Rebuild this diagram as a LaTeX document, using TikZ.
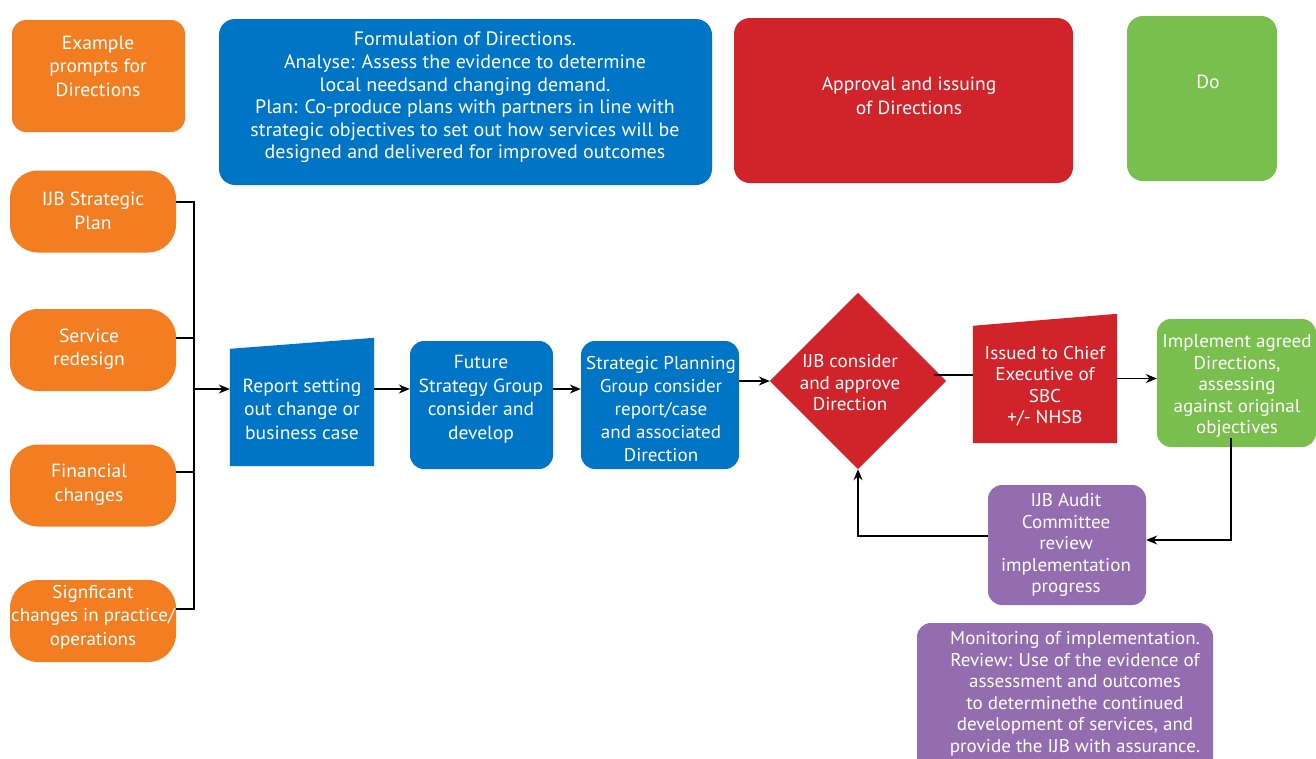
\documentclass[tikz,border=0pt]{standalone}
\usepackage{fontspec}
\setmainfont{PT Sans}[FakeStretch=1.03]
\usetikzlibrary{calc,arrows.meta}
\definecolor{cOr}{HTML}{F37E22}
\definecolor{cBl}{HTML}{0074C5}
\definecolor{cRd}{HTML}{D1232A}
\definecolor{cGr}{HTML}{79BF4E}
\definecolor{cPu}{HTML}{936DAF}
\tikzset{
  txt/.style={text=white, align=center, inner sep=0pt, font=\fontsize{19}{23.5}\selectfont},
  shp/.style={rectangle, inner sep=0pt, draw=none},
  rbox/.style={shp, rounded corners=14pt},
  pill/.style={shp, rounded corners=28pt, fill=cOr, minimum width=166pt, minimum height=82pt},
  conn/.style={line width=1.3pt, black},
  arr/.style={conn, -{Stealth[length=11pt,width=9pt]}}
}
\begin{document}
\begin{tikzpicture}[x=1pt,y=-1pt]
\useasboundingbox (0,0) rectangle (1316,758);
\clip (0,0) rectangle (1316,758);
\fill[white] (0,0) rectangle (1316,758);

% top row
\node[rbox, fill=cOr, minimum width=173pt, minimum height=112pt] (ex) at (98.5,76) {};
\node[txt] (ext) at (98,66) {Example\\prompts for\\Directions};
\node[rbox, fill=cBl, rounded corners=16pt, minimum width=493pt, minimum height=166pt] (form) at (465.5,102) {};
\node[txt, font=\fontsize{19.4}{22.6}\selectfont] (formt) at (465,97.5) {Formulation of Directions.\\Analyse: Assess the evidence to determine\\local needsand changing demand.\\Plan: Co-produce plans with partners in line with\\strategic objectives to set out how services will be\\designed and delivered for improved outcomes};
\node[rbox, fill=cRd, rounded corners=16pt, minimum width=339pt, minimum height=165pt] (appr) at (903.5,100.5) {};
\node[txt] (apprt) at (909,96) {Approval and issuing\\of Directions};
\node[rbox, fill=cGr, rounded corners=16pt, minimum width=150pt, minimum height=165pt] (do) at (1202,98.5) {};
\node[txt] (dot) at (1208,82) {Do};

% left prompts
\node[pill] (ijb) at (93,211.5) {};
\node[txt] (ijbt) at (93,211) {IJB Strategic\\Plan};
\node[pill] (svc) at (93,350) {};
\node[txt] (svct) at (89,349) {Service\\redesign};
\node[pill] (fin) at (93,485.5) {};
\node[txt] (fint) at (89,485) {Financial\\changes};
\node[pill] (sig) at (93,621) {};
\node[txt, font=\fontsize{18.5}{23.5}\selectfont] (sigt) at (93,617) {Signficant\\changes in practice/\\operations};

% bracket
\coordinate (bus) at (194,389);
\draw[conn] ([yshift=9.5pt]ijb.east) -| (bus) |- ([yshift=12pt]sig.east);
\draw[conn] ([yshift=12pt]svc.east) -- ([yshift=12pt]svc.east -| bus);
\draw[conn] ([yshift=13.5pt]fin.east) -- ([yshift=13.5pt]fin.east -| bus);

% main flow
\node[shp, minimum width=144pt, minimum height=128pt] (rep) at (302,402) {};
\fill[cBl] (rep.south west) -- ($(rep.north west)+(0,11)$) -- (rep.north east) -- (rep.south east) -- cycle;
\node[txt] (rept) at (302,409) {Report setting\\out change or\\business case};
\node[rbox, fill=cBl, minimum width=143pt, minimum height=128pt] (fut) at (481.5,405) {};
\node[txt] (futt) at (481,399) {Future\\Strategy Group\\consider and\\develop};
\node[rbox, fill=cBl, minimum width=158pt, minimum height=128pt] (spg) at (660,405) {};
\node[txt, font=\fontsize{18.5}{23}\selectfont] (spgt) at (661,409.5) {Strategic Planning\\Group consider\\report/case\\and associated\\Direction};
\node[shp, minimum width=176pt, minimum height=176pt] (dia) at (858,381) {};
\fill[cRd] (dia.north) -- (dia.east) -- (dia.south) -- (dia.west) -- cycle;
\node[txt, font=\fontsize{18.5}{21.5}\selectfont] (diat) at (850,383) {IJB consider\\and approve\\Direction};
\node[shp, minimum width=144pt, minimum height=129pt] (iss) at (1045,378.5) {};
\fill[cRd] (iss.south west) -- ($(iss.north west)+(0,12)$) -- (iss.north east) -- (iss.south east) -- cycle;
\node[txt, font=\fontsize{18.5}{21.5}\selectfont] (isst) at (1045,386) {Issued to Chief\\Executive of\\SBC\\+/- NHSB};
\node[rbox, fill=cGr, minimum width=159pt, minimum height=128pt] (imp) at (1236.5,383) {};
\node[txt, font=\fontsize{18.5}{21.5}\selectfont] (impt) at (1237,386) {Implement agreed\\Directions,\\assessing\\against original\\objectives};
\node[rbox, fill=cPu, minimum width=158pt, minimum height=120pt] (aud) at (1067,545) {};
\node[txt, font=\fontsize{18.5}{21.5}\selectfont] (audt) at (1066,545) {IJB Audit\\Committee\\review\\implementation\\progress};
\node[rbox, fill=cPu, minimum width=296pt, minimum height=157pt] (mon) at (1065,701.5) {};
\node[txt, font=\fontsize{18.5}{21.5}\selectfont] (mont) at (1075,694) {Monitoring of implementation.\\Review: Use of the evidence of\\assessment and outcomes\\to determinethe continued\\development of services, and\\provide the IJB with assurance.};

% connectors
\draw[arr] (bus) -- (bus -| rep.west);
\draw[arr] (rep.east |- bus) -- (fut.west |- bus);
\draw[arr] (fut.east |- bus) -- (spg.west |- bus);
\draw[arr] (spg.east |- dia.west) -- (dia.west);
\coordinate (d1) at (934,375);
\draw[conn] (d1) -- (d1 -| iss.west);
\draw[arr] (iss.east) -- (imp.west |- iss.east);
\coordinate (i1) at (1231,438);
\draw[arr] (i1) |- ([yshift=5pt]aud.east);
\draw[arr] ([yshift=9pt]aud.west) -| (dia.south);
\end{tikzpicture}
\end{document}
